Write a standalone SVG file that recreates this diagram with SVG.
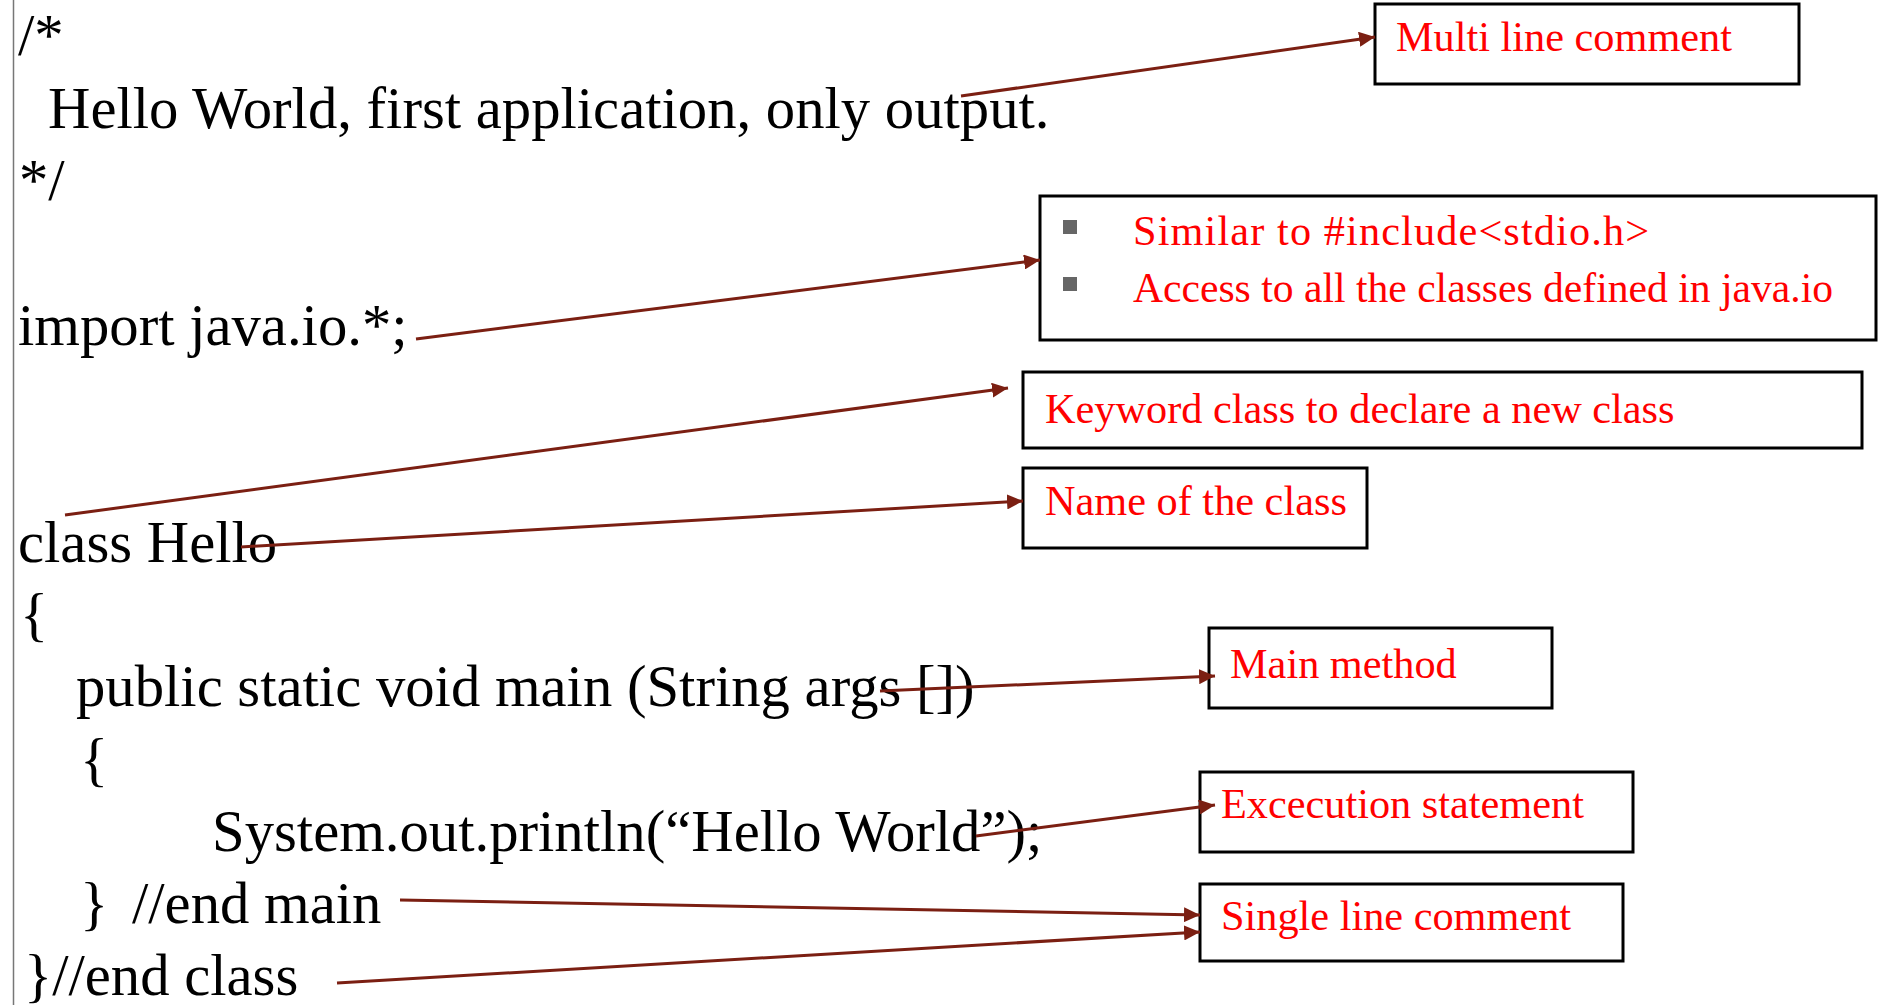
<svg xmlns="http://www.w3.org/2000/svg" width="1878" height="1005" viewBox="0 0 1878 1005">
<style>
.code{font-family:"Liberation Serif","Times New Roman",serif;font-size:58.7px;fill:#000}
.lbl{font-family:"Liberation Serif","Times New Roman",serif;font-size:42.3px;fill:#ff0000}
.box{fill:#fff;stroke:#000;stroke-width:3}
.conn{stroke:#7b1f12;stroke-width:3;fill:none}
.bul{fill:#666}
</style>
<defs>
<marker id="ah" markerUnits="userSpaceOnUse" markerWidth="16" markerHeight="15" refX="16" refY="7.5" orient="auto">
<path d="M0,0 L16,7.5 L0,15 z" fill="#7b1f12"/>
</marker>
</defs>
<rect x="0" y="0" width="1878" height="1005" fill="#fff"/>
<line x1="13.5" y1="0" x2="13.5" y2="1005" stroke="#777" stroke-width="1.5"/>
<g id="code">
<text class="code" x="18" y="55">/*</text>
<text class="code" x="48" y="128">Hello World, first application, only output.</text>
<text class="code" x="19" y="200">*/</text>
<text class="code" x="18" y="345">import java.io.*;</text>
<text class="code" x="18" y="562">class Hello</text>
<text class="code" x="20" y="634">{</text>
<text class="code" x="76" y="706">public static void main (String args [])</text>
<text class="code" x="80" y="779">{</text>
<text class="code" x="212" y="851">System.out.println(“Hello World”);</text>
<text class="code" x="80" y="923">}<tspan x="132">//end main</tspan></text>
<text class="code" x="24" y="995">}//end class</text>
</g>
<g id="node-multi">
<rect class="box" x="1375" y="4" width="424" height="80"/>
<text class="lbl" x="1396" y="51">Multi line comment</text>
</g>
<g id="node-import">
<rect class="box" x="1040" y="196" width="836" height="144"/>
<rect class="bul" x="1063" y="220" width="14" height="14"/>
<text class="lbl" x="1133" y="245" textLength="516" lengthAdjust="spacing">Similar to #include&lt;stdio.h&gt;</text>
<rect class="bul" x="1063" y="277" width="14" height="14"/>
<text class="lbl" x="1133" y="302" textLength="700" lengthAdjust="spacingAndGlyphs">Access to all the classes defined in java.io</text>
</g>
<g id="node-keyword">
<rect class="box" x="1023" y="372" width="839" height="76"/>
<text class="lbl" x="1045" y="423">Keyword class to declare a new class</text>
</g>
<g id="node-name">
<rect class="box" x="1023" y="468" width="344" height="80"/>
<text class="lbl" x="1045" y="515">Name of the class</text>
</g>
<g id="node-main">
<rect class="box" x="1209" y="628" width="343" height="80"/>
<text class="lbl" x="1230" y="678">Main method</text>
</g>
<g id="node-exec">
<rect class="box" x="1200" y="772" width="433" height="80"/>
<text class="lbl" x="1221" y="818">Excecution statement</text>
</g>
<g id="node-single">
<rect class="box" x="1200" y="884" width="423" height="77"/>
<text class="lbl" x="1221" y="930">Single line comment</text>
</g>
<g id="connectors">
<line class="conn" x1="961" y1="96" x2="1375" y2="37" marker-end="url(#ah)"/>
<line class="conn" x1="416" y1="339" x2="1040" y2="260" marker-end="url(#ah)"/>
<line class="conn" x1="65" y1="515" x2="1008" y2="388" marker-end="url(#ah)"/>
<line class="conn" x1="241" y1="547" x2="1023" y2="501" marker-end="url(#ah)"/>
<line class="conn" x1="880" y1="691" x2="1215" y2="676" marker-end="url(#ah)"/>
<line class="conn" x1="976" y1="836" x2="1215" y2="805" marker-end="url(#ah)"/>
<line class="conn" x1="400" y1="900" x2="1200" y2="915" marker-end="url(#ah)"/>
<line class="conn" x1="337" y1="983" x2="1200" y2="932" marker-end="url(#ah)"/>
</g>
</svg>
